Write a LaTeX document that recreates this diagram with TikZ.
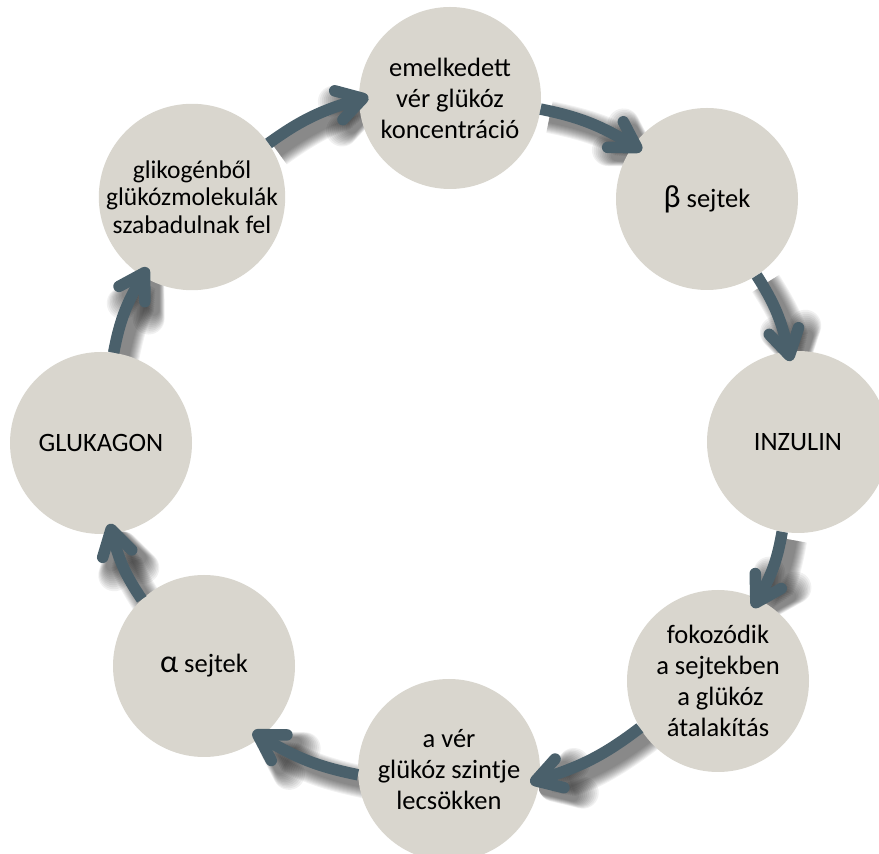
\documentclass[tikz,border=0pt]{standalone}
\usepackage{fontspec}
\setmainfont{Carlito}
\usetikzlibrary{arrows.meta}
\definecolor{circfill}{RGB}{217,214,206}
\definecolor{arrowcol}{RGB}{74,96,107}
\pgfdeclarelayer{background}
\pgfsetlayers{background,main}
\tikzset{
  stage/.style={circle, fill=circfill, minimum size=182pt, inner sep=0pt,
    align=center, font=\fontsize{26.5}{31}\selectfont},
  flowhead/.style={-{Straight Barb[length=25pt,width=30pt,round]}},
  flow/.style={draw=arrowcol, line width=11.5pt, flowhead, shorten >=-10pt},
  flowshade/.style={draw=black, flowhead, shorten >=-10pt,
    transform canvas={shift={(9pt,-8pt)}}},
}
\newcommand\cyclearrow[2]{%
  \begin{pgfonlayer}{background}
    \foreach \w in {32,30,28,26,24,22,20,18,16,14,12}{
      \draw[flowshade, line width=\w pt, opacity=0.055] (#1) to[bend left=10] (#2);
    }
  \end{pgfonlayer}
  \draw[flow] (#1) to[bend left=10] (#2);
}
\begin{document}
\begin{tikzpicture}[x=1pt,y=1pt]
\useasboundingbox (0,0) rectangle (879,854);
\node[stage] (c1) at (450,756) {emelkedett\\vér glükóz\\koncentráció};
\node[stage] (c2) at (707,655) {{\fontsize{32}{32}\selectfont β} sejtek};
\node[stage] (c3) at (798,412) {INZULIN};
\node[stage] (c4) at (718,173) {fokozódik\\a sejtekben\\\hspace*{5pt}a glükóz\\átalakítás};
\node[stage] (c5) at (449,84) {a vér\\glükóz szintje\\lecsökken};
\node[stage] (c6) at (204,188) {{\fontsize{32}{32}\selectfont α} sejtek};
\node[stage] (c7) at (101,411) {GLUKAGON};
\node[stage, font=\fontsize{25.5}{27.5}\selectfont] (c8) at (192,657) {glikogénből\\glükózmolekulák\\szabadulnak fel};
\cyclearrow{c8.35}{c1.181}
\cyclearrow{c1.-7}{c2.144}
\cyclearrow{c2.-57}{c3.96}
\cyclearrow{c3.260}{c4.64}
\cyclearrow{c4.211}{c5.-6}
\cyclearrow{c5.183}{c6.-51}
\cyclearrow{c6.133}{c7.-83}
\cyclearrow{c7.82}{c8.238}
\end{tikzpicture}
\end{document}
